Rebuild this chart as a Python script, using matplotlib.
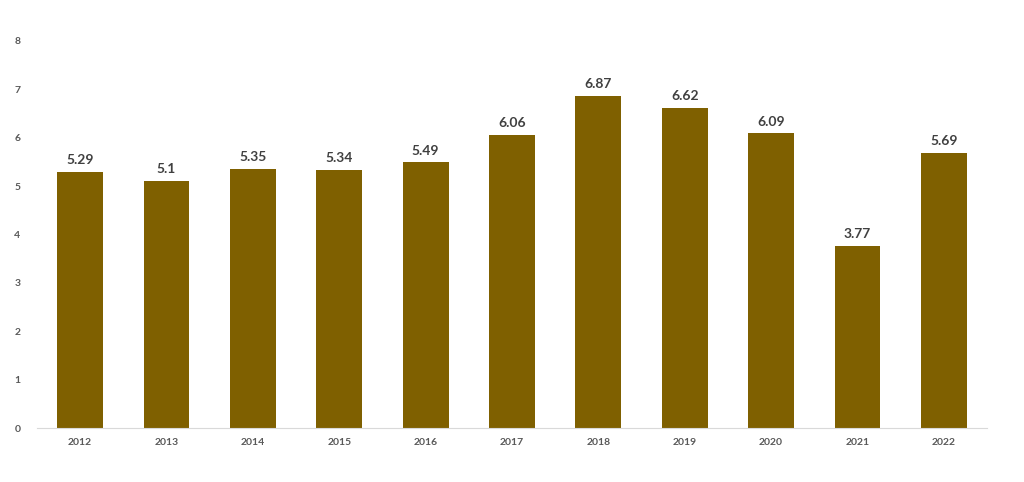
import matplotlib
matplotlib.use('Agg')
import matplotlib.pyplot as plt

years = ['2012', '2013', '2014', '2015', '2016', '2017', '2018', '2019', '2020', '2021', '2022']
values = [5.29, 5.1, 5.35, 5.34, 5.49, 6.06, 6.87, 6.62, 6.09, 3.77, 5.69]
labels = ['5.29', '5.1', '5.35', '5.34', '5.49', '6.06', '6.87', '6.62', '6.09', '3.77', '5.69']

plt.rcParams['font.family'] = ['Lato', 'DejaVu Sans']

fig = plt.figure(figsize=(10.24, 4.82), dpi=100)
ax = fig.add_axes([0.0361, 0.112, 0.9278, 0.803])

x = range(len(years))
bars = ax.bar(x, values, width=0.53, color='#7F6000', zorder=2)

# value labels above each bar
for b, lab in zip(bars, labels):
    ax.text(b.get_x() + b.get_width() / 2, b.get_height() + 0.12, lab,
            ha='center', va='bottom', fontsize=10, fontweight='bold', color='#404040')

ax.set_xlim(-0.5, len(years) - 0.5)
ax.set_ylim(0, 8)
ax.set_yticks(range(0, 9))
ax.set_xticks(list(x))
ax.set_xticklabels(years)
ax.tick_params(axis='both', length=0, labelsize=7.5, colors='#595959')
ax.tick_params(axis='x', pad=7)
ax.tick_params(axis='y', pad=12)
for t in ax.get_xticklabels() + ax.get_yticklabels():
    t.set_fontweight('bold')

for s in ['top', 'right', 'left']:
    ax.spines[s].set_visible(False)
ax.spines['bottom'].set_color('#D9D9D9')
ax.spines['bottom'].set_linewidth(0.8)

fig.savefig('out.png', dpi=100)
